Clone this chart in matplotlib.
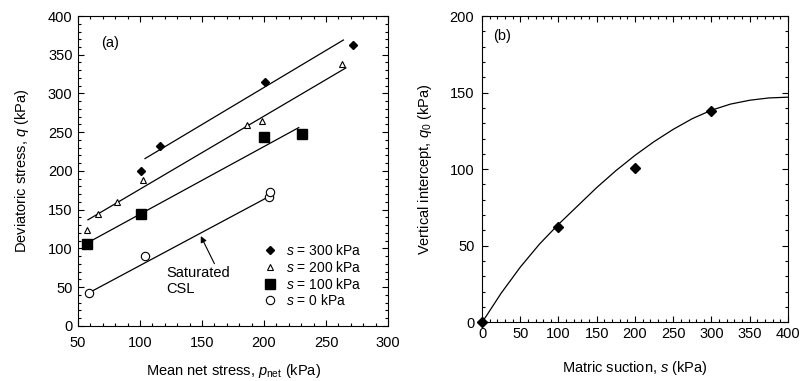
import matplotlib.pyplot as plt
from matplotlib.ticker import MultipleLocator

plt.rcParams['font.family'] = ['Liberation Sans', 'DejaVu Sans']
plt.rcParams['mathtext.fontset'] = 'custom'
plt.rcParams['mathtext.rm'] = 'Liberation Sans'
plt.rcParams['mathtext.it'] = 'Liberation Sans:italic'
plt.rcParams['font.size'] = 10

# panel (a): critical state data, p_net vs q
p_300 = [101, 116, 201, 272]
q_300 = [200, 232, 315, 363]
p_200 = [57.5, 66.5, 81.5, 102, 186, 198.5, 263]
q_200 = [124, 144, 160, 188, 259, 265, 338]
p_100 = [57.5, 101, 200, 231]
q_100 = [106, 144, 243.5, 248]
p_0 = [59, 104, 204, 205]
q_0 = [43, 90, 166, 172.5]

# fitted CSL lines (end points)
fit_p = {300: [104, 264], 200: [58, 266], 100: [55, 228], 0: [59, 204]}
fit_q = {300: [216, 369], 200: [137, 333], 100: [105, 256], 0: [43, 167]}

# panel (b): intercept vs suction
suction = [0, 100, 200, 300]
intercept = [0, 62, 101, 138]
curve_s = [0, 6.5, 25, 50, 75, 100, 125, 150, 175, 200, 225, 250, 275, 300,
           325, 350, 375, 400]
curve_q = [0, 4.8, 19, 36, 51, 64, 76, 88, 99, 109, 118, 126, 133, 138.5,
           142.5, 145, 146.5, 147]

fig = plt.figure(figsize=(8.02, 3.81), dpi=100)
ax1 = fig.add_axes([0.0973, 0.1444, 0.3865, 0.8136])
ax2 = fig.add_axes([0.601, 0.154, 0.3815, 0.804])


def style_axes(ax, xpad, ypad):
    ax.tick_params(which='both', direction='in', top=True, right=True, width=0.8,
                   labelsize=10.5)
    ax.tick_params(axis='x', which='major', pad=xpad)
    ax.tick_params(axis='y', which='major', pad=ypad)
    ax.tick_params(which='major', length=4)
    ax.tick_params(which='minor', length=2)
    for sp in ax.spines.values():
        sp.set_linewidth(0.8)


# panel (a)
for k in fit_p:
    ax1.plot(fit_p[k], fit_q[k], color='black', lw=0.9)
h1, = ax1.plot(p_300, q_300, 'D', color='black', ms=4.5, ls='none')
h2, = ax1.plot(p_200, q_200, '^', mfc='white', mec='black', mew=0.8, ms=5, ls='none')
h3, = ax1.plot(p_100, q_100, 's', color='black', ms=7, ls='none')
h4, = ax1.plot(p_0, q_0, 'o', mfc='white', mec='black', mew=0.8, ms=6, ls='none')
ax1.set_xlim(50, 300)
ax1.set_ylim(0, 400)
ax1.xaxis.set_major_locator(MultipleLocator(50))
ax1.xaxis.set_minor_locator(MultipleLocator(10))
ax1.yaxis.set_major_locator(MultipleLocator(50))
ax1.yaxis.set_minor_locator(MultipleLocator(10))
style_axes(ax1, 7.5, 4)
ax1.set_xlabel('Mean net stress, $p_{\\rm net}$ (kPa)', fontsize=10.5, labelpad=8)
ax1.set_ylabel('Deviatoric stress, $q$ (kPa)', fontsize=10.5, labelpad=12)
ax1.text(69, 365, '(a)', fontsize=10.5, va='center', ha='left')
ax1.annotate('Saturated\nCSL', xy=(149, 116), xytext=(121, 58),
             fontsize=10.5, ha='left', va='center', linespacing=1.1,
             arrowprops=dict(arrowstyle='-|>', color='black', lw=0.8,
                             shrinkA=0, shrinkB=0, mutation_scale=9,
                             relpos=(0.78, 1.0)))
ax1.legend([h1, h2, h3, h4],
           ['$s$ = 300 kPa', '$s$ = 200 kPa', '$s$ = 100 kPa', '$s$ = 0 kPa'],
           loc='upper left', bbox_to_anchor=(0.578, 0.285), frameon=False,
           handlelength=1.0, handletextpad=0.7, labelspacing=0.12,
           borderaxespad=0, fontsize=10)

# panel (b)
ax2.plot(curve_s, curve_q, color='black', lw=0.9)
ax2.plot(suction, intercept, 'D', color='black', ms=5.5, ls='none', clip_on=False,
         zorder=5)
ax2.set_xlim(0, 400)
ax2.set_ylim(0, 200)
ax2.xaxis.set_major_locator(MultipleLocator(50))
ax2.xaxis.set_minor_locator(MultipleLocator(10))
ax2.yaxis.set_major_locator(MultipleLocator(50))
ax2.yaxis.set_minor_locator(MultipleLocator(10))
style_axes(ax2, 3.5, 5.5)
ax2.set_xlabel('Matric suction, $s$ (kPa)', fontsize=10.5, labelpad=13)
ax2.set_ylabel('Vertical intercept, $q_0$ (kPa)', fontsize=10.5, labelpad=11)
ax2.text(15, 187, '(b)', fontsize=10.5, va='center', ha='left')

fig.savefig('out.png', dpi=100)
